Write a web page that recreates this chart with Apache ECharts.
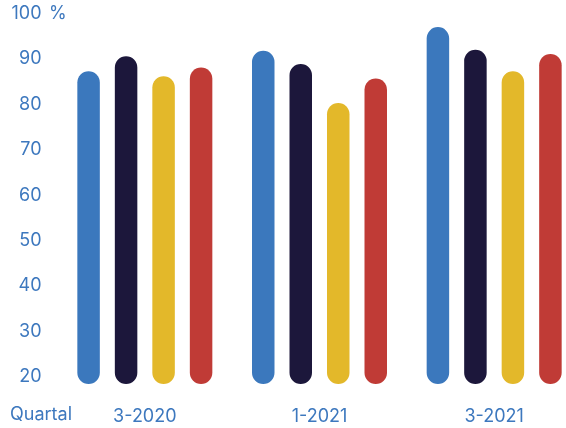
<!DOCTYPE html>
<html>
<head>
<meta charset="utf-8">
<script src="https://cdn.jsdelivr.net/npm/echarts@6/dist/echarts.min.js"></script>
<style>
  html, body { margin: 0; padding: 0; background: #fff; }
  #chart { width: 566px; height: 428px; }
</style>
</head>
<body>
<div id="chart"></div>
<script>
// Quarters on the x axis
const quarters = ['3-2020', '1-2021', '3-2021'];

// Percentages per series, one value per quarter
const seriesBlue   = [87.3, 91.8, 97.0];
const seriesNavy   = [90.6, 88.9, 92.0];
const seriesYellow = [86.2, 80.3, 87.3];
const seriesRed    = [88.1, 85.7, 91.1];

// Y axis ticks
const yTicks = [20, 30, 40, 50, 60, 70, 80, 90, 100];

// Bars start slightly below the lowest tick so the rounded foot sits under it
const barBase = 18.4;

const colors = ['#3b78bd', '#1c173b', '#e3b82a', '#c03b36'];
const textColor = '#3d78be';
const fontFamily = 'Inter, "Noto Sans", sans-serif';

const allSeries = [seriesBlue, seriesNavy, seriesYellow, seriesRed];
const barWidth = 22.5;
const barStep = 37.5;

function makeSeries(values, idx) {
  return {
    type: 'custom',
    name: 'S' + (idx + 1),
    clip: false,
    data: values.map((v, i) => [i, v]),
    renderItem: function (params, api) {
      const top = api.coord([api.value(0), api.value(1)]);
      const bottom = api.coord([api.value(0), barBase]);
      const cx = top[0] + (idx - 1.5) * barStep;
      return {
        type: 'rect',
        shape: {
          x: cx - barWidth / 2,
          y: top[1],
          width: barWidth,
          height: bottom[1] - top[1],
          r: barWidth / 2
        },
        style: { fill: colors[idx] }
      };
    }
  };
}

const chart = echarts.init(document.getElementById('chart'), null, { renderer: 'canvas' });
chart.setOption({
  animation: false,
  grid: {
    left: 57.5, top: 13.5, width: 524, bottom: 51.3,
    containLabel: false,
    outerBoundsMode: 'none'
  },
  xAxis: {
    type: 'category',
    data: quarters,
    axisLine: { show: false },
    axisTick: { show: false },
    axisLabel: {
      margin: 31,
      color: textColor,
      fontSize: 18,
      fontFamily: fontFamily
    }
  },
  yAxis: {
    type: 'value',
    min: yTicks[0],
    max: yTicks[yTicks.length - 1],
    interval: 10,
    splitLine: { show: false },
    axisLine: { show: false },
    axisTick: { show: false },
    axisLabel: {
      margin: 16,
      color: textColor,
      fontSize: 18,
      fontFamily: fontFamily
    }
  },
  graphic: [
    {
      type: 'text',
      left: 49,
      top: 5,
      style: { text: '%', fill: textColor, fontSize: 18, fontFamily: fontFamily }
    },
    {
      type: 'text',
      left: 10,
      top: 406,
      style: { text: 'Quartal', fill: textColor, fontSize: 18, fontFamily: fontFamily }
    }
  ],
  series: allSeries.map(makeSeries)
});
</script>
</body>
</html>
